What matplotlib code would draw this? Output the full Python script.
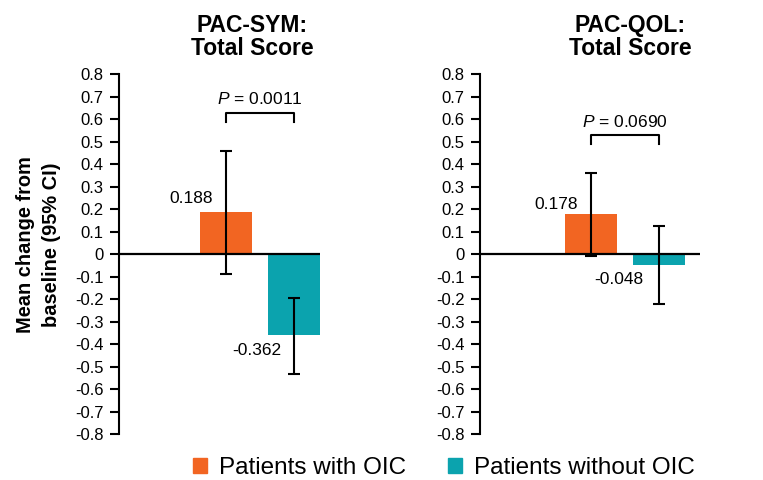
#!/usr/bin/env python3
"""Two-panel bar chart: mean change from baseline, patients with/without OIC."""

import matplotlib
matplotlib.use("Agg")
import matplotlib.pyplot as plt
import matplotlib.patches as mpatches

plt.rcParams["font.family"] = ["Liberation Sans", "DejaVu Sans"]
plt.rcParams["mathtext.fontset"] = "custom"
plt.rcParams["mathtext.it"] = "Liberation Sans:italic"
plt.rcParams["mathtext.rm"] = "Liberation Sans"

# Data
panels = ["PAC-SYM:\nTotal Score", "PAC-QOL:\nTotal Score"]
groups = ["Patients with OIC", "Patients without OIC"]
means = [[0.188, -0.362], [0.178, -0.048]]
ci_low = [[-0.09, -0.535], [-0.01, -0.22]]
ci_high = [[0.458, -0.195], [0.362, 0.124]]
p_values = ["0.0011", "0.0690"]

C_OIC = "#F26522"
C_NO = "#0BA3AE"
colors = [C_OIC, C_NO]

fig = plt.figure(figsize=(7.63, 4.80), dpi=100)
fig.patch.set_facecolor("white")

# layout (figure fractions / data offsets)
ax_rects = [[0.156, 0.0958, 0.2634, 0.75], [0.629, 0.0958, 0.2883, 0.75]]
xlims = [(-1.574, 1.38), (-1.63, 1.60)]
title_x = [0.662, 0.682]
bracket_y = [0.627, 0.53]
p_text_y = [0.689, 0.587]
# (dx from bar centre for right edge, y centre) of value labels
label_pos = [[(-0.19, 0.245), (-0.19, -0.427)],
             [(-0.19, 0.22), (-0.235, -0.115)]]

for i in range(2):
    ax = fig.add_axes(ax_rects[i])
    xs = [0, 1]
    ax.bar(xs, means[i], width=0.765, color=colors, zorder=2)
    lo = [m - l for m, l in zip(means[i], ci_low[i])]
    hi = [h - m for m, h in zip(means[i], ci_high[i])]
    ax.errorbar(xs, means[i], yerr=[lo, hi], fmt="none", ecolor="black",
                elinewidth=1.5, capsize=4.5, capthick=1.5, zorder=3)
    ax.axhline(0, color="black", lw=1.6, zorder=4)

    for j in range(2):
        dx, y = label_pos[i][j]
        ax.text(xs[j] + dx, y, f"{means[i][j]:.3f}", ha="right",
                va="center", fontsize=12.5)

    # significance bracket
    by = bracket_y[i]
    ax.plot([0, 0, 1, 1], [by - 0.04, by, by, by - 0.04], color="black",
            lw=1.5, clip_on=False)
    ax.text(0.5, p_text_y[i], "$\\it{P}$ = " + p_values[i], ha="center",
            va="center", fontsize=12.5)

    ax.set_xlim(*xlims[i])
    ax.set_ylim(-0.8, 0.8)
    ticks = [round(-0.8 + 0.1 * k, 1) for k in range(17)]
    ax.set_yticks(ticks)
    ax.set_yticklabels(["0" if t == 0 else f"{t:g}" for t in ticks])
    ax.tick_params(axis="y", direction="out", length=6.5, width=1.5,
                   labelsize=12, pad=4.5)
    ax.set_xticks([])
    for s in ["top", "right", "bottom"]:
        ax.spines[s].set_visible(False)
    ax.spines["left"].set_linewidth(1.5)
    ax.set_title(panels[i], fontsize=16.5, fontweight="bold", pad=14,
                 x=title_x[i], linespacing=1.0)

    if i == 0:
        ax.set_ylabel("Mean change from\nbaseline (95% CI)", fontsize=14.4,
                      fontweight="bold", linespacing=1.45)
        ax.yaxis.set_label_coords(-0.29, 0.525)

handles = [mpatches.Patch(color=c) for c in colors]
fig.legend(handles, groups, loc="center", bbox_to_anchor=(0.582, 0.025),
           ncol=2, frameon=False, fontsize=17.5, handlelength=0.56,
           handleheight=0.56, columnspacing=1.75, handletextpad=0.5,
           borderpad=0)

plt.savefig("out.png", dpi=100)
